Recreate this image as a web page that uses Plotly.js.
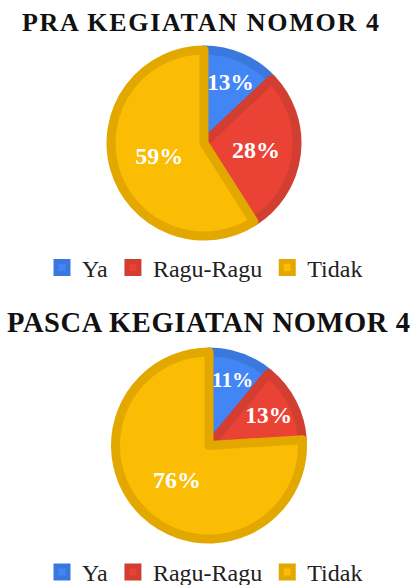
<!DOCTYPE html>
<html>
<head>
<meta charset="utf-8">
<script src="https://cdn.plot.ly/plotly-3.0.1.min.js"></script>
<style>html,body{margin:0;padding:0;background:#fff;}#chart{width:410px;height:585px;}</style>
</head>
<body>
<div id="chart"></div>
<script>
const categories = ["Ya", "Ragu-Ragu", "Tidak"];
const praValues = [13, 28, 59];
const pascaValues = [11, 13, 76];
const praTitle = "PRA KEGIATAN NOMOR 4";
const pascaTitle = "PASCA KEGIATAN NOMOR 4";

const fillColors = ["#4285F4", "#EA4335", "#FBBC04"];
const lineColors = ["#3A78DE", "#D23F32", "#E3A800"];
const serif = "Liberation Serif, Times New Roman, serif";

function pieTrace(values, domain, legendId, group) {
  return {
    type: "pie",
    labels: categories,
    values: values,
    sort: false,
    direction: "clockwise",
    rotation: 0,
    domain: domain,
    legend: legendId,
    legendgroup: group,
    marker: {colors: fillColors, line: {color: lineColors, width: 9}},
    textinfo: "percent",
    textposition: "inside",
    insidetextorientation: "horizontal",
    textfont: {family: serif, size: 24, color: "#ffffff", weight: "bold"},
    hoverinfo: "label+percent"
  };
}

const data = [
  pieTrace(praValues, {x: [0.2707, 0.7244], y: [0.5966, 0.9145]}, "legend", "pra"),
  pieTrace(pascaValues, {x: [0.2817, 0.7378], y: [0.0786, 0.3983]}, "legend2", "pasca")
];

const legendBase = {
  orientation: "h",
  traceorder: "normal",
  xanchor: "center",
  yanchor: "middle",
  font: {family: serif, size: 24, color: "#222"},
  itemwidth: 30,
  tracegroupgap: 0
};

const layout = {
  width: 410,
  height: 585,
  margin: {l: 0, r: 0, t: 0, b: 0, autoexpand: false},
  paper_bgcolor: "#ffffff",
  showlegend: true,
  legend: Object.assign({}, legendBase, {x: 0.5, y: 0.542}),
  legend2: Object.assign({}, legendBase, {x: 0.5, y: 0.0215}),
  annotations: [
    {text: '<span style="letter-spacing:1.7px">' + praTitle + '</span>', xref: "paper", yref: "paper",
     x: 201.5 / 410, y: 1 - 23 / 585, xanchor: "center", yanchor: "middle", showarrow: false,
     font: {family: serif, size: 26, color: "#111", weight: "bold"}},
    {text: '<span style="letter-spacing:0.6px">' + pascaTitle + '</span>', xref: "paper", yref: "paper",
     x: 209 / 410, y: 1 - 322 / 585, xanchor: "center", yanchor: "middle", showarrow: false,
     font: {family: serif, size: 28.5, color: "#111", weight: "bold"}}
  ]
};

Plotly.newPlot("chart", data, layout, {displayModeBar: false, staticPlot: true});
</script>
</body>
</html>
